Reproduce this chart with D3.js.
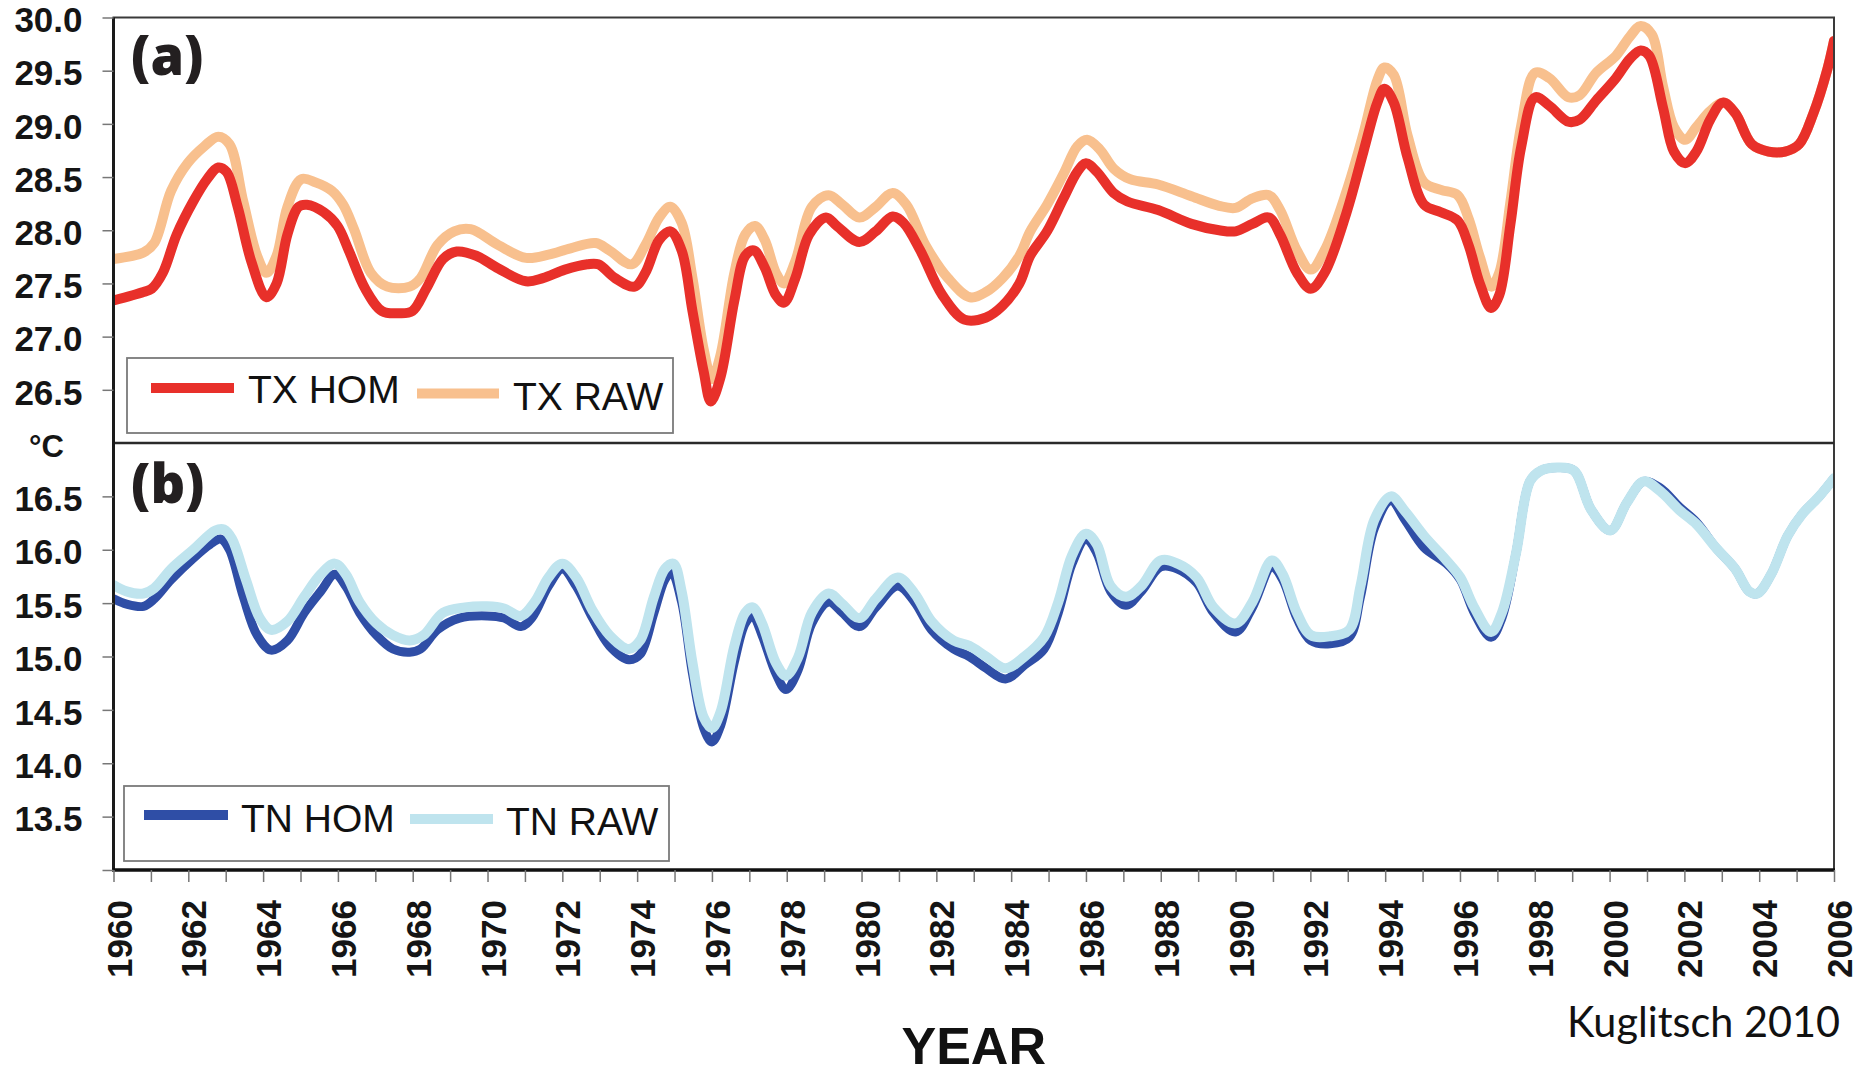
<!DOCTYPE html>
<html>
<head>
<meta charset="utf-8">
<script src="https://cdn.jsdelivr.net/npm/d3@7"></script>
<style>
  html, body { margin: 0; padding: 0; background: #ffffff; }
  svg { display: block; }
</style>
</head>
<body>
<script>
// ---------------- DATA ----------------
const yearTicks = d3.range(1960, 2007);
const yearLabels = d3.range(1960, 2007, 2);
const topTickValues = [26.5, 27.0, 27.5, 28.0, 28.5, 29.0, 29.5, 30.0];
const botTickValues = [13.0, 13.5, 14.0, 14.5, 15.0, 15.5, 16.0, 16.5];
const botTickLabels = [13.5, 14.0, 14.5, 15.0, 15.5, 16.0, 16.5];

// Panel (a) – TX HOM
const txHomYears = [1960.00,1960.80,1961.02,1961.32,1961.69,1962.13,1962.50,1962.80,1963.02,1963.32,1963.69,1964.09,1964.36,1964.65,1964.95,1965.17,1965.62,1965.99,1966.29,1966.73,1967.18,1967.62,1967.99,1968.36,1968.81,1969.18,1969.70,1970.29,1971.03,1971.48,1972.07,1972.67,1972.96,1973.41,1973.93,1974.22,1974.59,1974.89,1975.19,1975.48,1975.78,1975.97,1976.23,1976.60,1976.89,1977.12,1977.41,1977.71,1977.93,1978.23,1978.60,1979.05,1979.34,1979.94,1980.38,1980.83,1981.12,1981.57,1982.16,1982.75,1983.33,1983.77,1984.22,1984.51,1984.96,1985.40,1985.77,1986.00,1986.29,1986.74,1987.11,1987.93,1988.82,1989.56,1990.00,1990.45,1990.89,1991.19,1991.64,1992.01,1992.38,1992.97,1993.42,1993.79,1993.98,1994.23,1994.60,1995.04,1995.49,1995.94,1996.23,1996.53,1996.83,1997.05,1997.35,1997.64,1998.01,1998.39,1998.90,1999.20,1999.64,2000.17,2000.54,2000.83,2001.06,2001.43,2001.72,2002.02,2002.32,2002.69,2003.03,2003.36,2003.80,2004.25,2004.69,2005.07,2005.45,2005.82,2006.00];
const txHom = [27.34,27.42,27.45,27.60,27.96,28.27,28.48,28.59,28.55,28.22,27.70,27.37,27.50,27.96,28.22,28.24,28.17,28.04,27.81,27.45,27.24,27.22,27.24,27.45,27.73,27.80,27.76,27.64,27.52,27.55,27.63,27.68,27.68,27.55,27.47,27.60,27.91,27.99,27.81,27.24,26.67,26.39,26.62,27.34,27.76,27.81,27.65,27.39,27.32,27.55,27.96,28.12,28.04,27.89,27.99,28.13,28.07,27.81,27.39,27.16,27.18,27.29,27.50,27.76,27.99,28.30,28.55,28.63,28.55,28.35,28.27,28.19,28.06,28.00,27.99,28.06,28.12,27.96,27.60,27.45,27.60,28.17,28.74,29.20,29.33,29.20,28.68,28.24,28.17,28.09,27.86,27.50,27.27,27.39,28.06,28.79,29.25,29.17,29.02,29.04,29.22,29.43,29.61,29.69,29.64,29.15,28.74,28.63,28.74,29.04,29.20,29.10,28.81,28.74,28.74,28.81,29.10,29.51,29.78];

// Panel (a) – TX RAW
const txRawYears = [1960.00,1960.80,1961.09,1961.54,1961.98,1962.43,1962.80,1963.10,1963.47,1963.84,1964.09,1964.36,1964.65,1965.02,1965.40,1965.84,1966.14,1966.43,1966.88,1967.32,1967.92,1968.21,1968.66,1969.11,1969.55,1970.29,1971.03,1971.63,1972.22,1972.89,1973.26,1973.85,1974.22,1974.59,1974.89,1975.19,1975.48,1975.78,1976.00,1976.23,1976.60,1976.89,1977.15,1977.41,1977.71,1977.93,1978.23,1978.67,1979.12,1979.49,1979.94,1980.38,1980.83,1981.20,1981.71,1982.31,1982.90,1983.33,1983.77,1984.22,1984.51,1984.96,1985.40,1985.77,1986.03,1986.37,1986.74,1987.18,1987.93,1988.82,1989.56,1990.00,1990.45,1990.89,1991.19,1991.64,1992.01,1992.38,1992.97,1993.42,1993.79,1993.98,1994.23,1994.60,1995.04,1995.49,1995.94,1996.23,1996.53,1996.83,1997.05,1997.35,1997.64,1998.01,1998.39,1998.90,1999.20,1999.64,2000.17,2000.54,2000.83,2001.13,2001.43,2001.72,2002.02,2002.32,2002.69,2003.03,2003.36,2003.80,2004.25,2004.69,2005.07,2005.45,2005.82,2006.00];
const txRaw = [27.73,27.79,27.88,28.37,28.63,28.79,28.88,28.81,28.27,27.76,27.60,27.76,28.22,28.48,28.45,28.37,28.24,28.01,27.60,27.47,27.47,27.55,27.86,27.99,28.01,27.86,27.74,27.77,27.83,27.88,27.81,27.68,27.86,28.12,28.22,28.07,27.55,26.88,26.60,26.83,27.60,27.96,28.04,27.91,27.60,27.50,27.71,28.22,28.33,28.24,28.12,28.22,28.35,28.24,27.86,27.55,27.37,27.42,27.55,27.76,27.99,28.24,28.53,28.79,28.85,28.76,28.58,28.48,28.43,28.32,28.23,28.21,28.30,28.33,28.19,27.81,27.63,27.81,28.37,28.91,29.41,29.53,29.46,28.89,28.45,28.38,28.33,28.11,27.75,27.47,27.60,28.27,28.99,29.48,29.43,29.25,29.27,29.48,29.64,29.82,29.92,29.84,29.35,28.97,28.85,28.97,29.12,29.20,29.10,28.81,28.74,28.74,28.81,29.10,29.51,29.78];

// Panel (b) – TN HOM
const tnHomYears = [1960.00,1960.35,1960.80,1961.09,1961.54,1962.13,1962.58,1962.87,1963.10,1963.47,1963.84,1964.21,1964.65,1965.10,1965.54,1965.92,1966.21,1966.58,1967.03,1967.47,1967.92,1968.21,1968.66,1969.25,1969.99,1970.44,1970.89,1971.18,1971.63,1972.00,1972.37,1972.81,1973.26,1973.78,1974.08,1974.45,1974.74,1974.92,1975.19,1975.48,1975.78,1976.00,1976.23,1976.60,1976.89,1977.09,1977.34,1977.71,1977.98,1978.30,1978.67,1979.12,1979.49,1979.94,1980.38,1980.97,1981.42,1981.87,1982.46,1982.88,1983.33,1983.85,1984.36,1984.88,1985.26,1985.63,1986.00,1986.29,1986.66,1987.07,1987.48,1988.00,1988.45,1988.96,1989.41,1990.00,1990.45,1990.97,1991.26,1991.64,1992.01,1992.53,1993.04,1993.34,1993.71,1994.15,1994.53,1995.04,1995.64,1996.01,1996.38,1996.83,1997.12,1997.50,1997.87,1998.16,1998.61,1999.05,1999.50,2000.02,2000.46,2000.91,2001.35,2001.87,2002.32,2002.84,2003.36,2003.73,2003.95,2004.32,2004.76,2005.14,2005.58,2006.00];
const tnHom = [15.54,15.49,15.47,15.54,15.72,15.92,16.05,16.10,16.00,15.56,15.20,15.06,15.15,15.41,15.61,15.77,15.66,15.41,15.20,15.07,15.04,15.07,15.25,15.36,15.38,15.36,15.28,15.36,15.66,15.82,15.66,15.36,15.10,14.97,15.02,15.41,15.72,15.79,15.51,14.84,14.33,14.20,14.35,14.95,15.31,15.38,15.20,14.84,14.69,14.87,15.31,15.51,15.41,15.28,15.46,15.66,15.51,15.25,15.07,15.00,14.89,14.79,14.92,15.07,15.41,15.87,16.10,15.97,15.61,15.48,15.61,15.84,15.82,15.69,15.41,15.23,15.46,15.84,15.72,15.36,15.15,15.12,15.18,15.56,16.20,16.46,16.28,16.02,15.87,15.72,15.41,15.18,15.36,15.97,16.64,16.74,16.77,16.74,16.38,16.18,16.44,16.64,16.58,16.40,16.26,16.02,15.82,15.61,15.59,15.77,16.13,16.33,16.49,16.67];

// Panel (b) – TN RAW
const tnRawYears = [1960.00,1960.35,1960.80,1961.09,1961.54,1962.13,1962.72,1962.95,1963.17,1963.54,1963.91,1964.21,1964.65,1965.10,1965.54,1965.92,1966.21,1966.58,1967.03,1967.47,1967.92,1968.29,1968.81,1969.40,1969.99,1970.44,1970.89,1971.26,1971.63,1972.00,1972.37,1972.81,1973.26,1973.78,1974.08,1974.45,1974.74,1974.97,1975.19,1975.48,1975.78,1976.00,1976.23,1976.60,1976.89,1977.09,1977.34,1977.71,1977.98,1978.30,1978.67,1979.12,1979.49,1979.94,1980.38,1980.97,1981.42,1981.87,1982.46,1982.88,1983.33,1983.85,1984.36,1984.88,1985.26,1985.63,1986.00,1986.29,1986.66,1987.07,1987.48,1988.00,1988.45,1988.96,1989.41,1990.00,1990.45,1990.97,1991.26,1991.64,1992.01,1992.53,1993.04,1993.34,1993.71,1994.15,1994.53,1995.04,1995.64,1996.01,1996.38,1996.83,1997.12,1997.50,1997.87,1998.16,1998.61,1999.05,1999.50,2000.02,2000.46,2000.91,2001.35,2001.87,2002.32,2002.84,2003.36,2003.73,2003.95,2004.32,2004.76,2005.14,2005.58,2006.00];
const tnRaw = [15.67,15.61,15.59,15.64,15.82,16.00,16.18,16.19,16.10,15.72,15.36,15.25,15.33,15.56,15.77,15.87,15.77,15.51,15.31,15.20,15.15,15.20,15.41,15.46,15.47,15.45,15.38,15.51,15.74,15.87,15.74,15.43,15.20,15.07,15.15,15.56,15.82,15.87,15.61,14.94,14.43,14.33,14.48,15.10,15.41,15.46,15.31,14.94,14.82,14.99,15.41,15.59,15.49,15.36,15.54,15.74,15.59,15.33,15.15,15.10,15.00,14.89,15.00,15.18,15.51,15.95,16.15,16.05,15.66,15.56,15.66,15.90,15.87,15.74,15.46,15.31,15.51,15.90,15.77,15.41,15.20,15.19,15.25,15.66,16.28,16.50,16.36,16.13,15.90,15.74,15.46,15.23,15.41,15.97,16.64,16.74,16.77,16.74,16.38,16.18,16.44,16.64,16.55,16.37,16.24,16.02,15.82,15.61,15.59,15.77,16.13,16.33,16.49,16.67];

const seriesNames = ["TX HOM", "TX RAW", "TN HOM", "TN RAW"];
const seriesColors = ["#e8302a", "#f8c08e", "#2f4ea6", "#bfe4ee"];

// ---------------- LAYOUT ----------------
const W = 1865, H = 1078;
const L = 113.5, R = 1834, T = 17.5, M = 443, B = 870;
const numFont = "'Liberation Sans', Arial, Helvetica, sans-serif";

const svg = d3.select("body").append("svg").attr("width", W).attr("height", H);

const x = d3.scaleLinear().domain([1960, 2006]).range([L, R]);
const yTop = d3.scaleLinear().domain([26, 30]).range([M, T]);
const yBot = d3.scaleLinear().domain([13, 17]).range([B, M]);

// Clip paths
svg.append("clipPath").attr("id", "clipTop").append("rect")
  .attr("x", L).attr("y", T).attr("width", R - L).attr("height", M - T);
svg.append("clipPath").attr("id", "clipBot").append("rect")
  .attr("x", L).attr("y", M).attr("width", R - L).attr("height", B - M);

function lineFor(years, vals, yScale) {
  const pts = years.map((yr, i) => [yr, vals[i]]);
  return d3.line().x(d => x(d[0])).y(d => yScale(d[1])).curve(d3.curveCatmullRom.alpha(0.5))(pts);
}

// ---- Panel (a) lines: raw under, hom on top
const gTop = svg.append("g").attr("clip-path", "url(#clipTop)");
gTop.append("path").attr("d", lineFor(txRawYears, txRaw, yTop))
  .attr("fill", "none").attr("stroke", seriesColors[1]).attr("stroke-width", 10)
  .attr("stroke-linejoin", "round").attr("stroke-linecap", "round");
gTop.append("path").attr("d", lineFor(txHomYears, txHom, yTop))
  .attr("fill", "none").attr("stroke", seriesColors[0]).attr("stroke-width", 10)
  .attr("stroke-linejoin", "round").attr("stroke-linecap", "round");

// ---- Panel (b) lines: hom under, raw on top
const gBot = svg.append("g").attr("clip-path", "url(#clipBot)");
gBot.append("path").attr("d", lineFor(tnHomYears, tnHom, yBot))
  .attr("fill", "none").attr("stroke", seriesColors[2]).attr("stroke-width", 9)
  .attr("stroke-linejoin", "round").attr("stroke-linecap", "round");
gBot.append("path").attr("d", lineFor(tnRawYears, tnRaw, yBot))
  .attr("fill", "none").attr("stroke", seriesColors[3]).attr("stroke-width", 10)
  .attr("stroke-linejoin", "round").attr("stroke-linecap", "round");

// ---- Frames
svg.append("rect").attr("x", L).attr("y", T).attr("width", R - L).attr("height", B - T)
  .attr("fill", "none").attr("stroke", "#3a3a3a").attr("stroke-width", 2);
svg.append("line").attr("x1", L).attr("x2", R).attr("y1", M).attr("y2", M)
  .attr("stroke", "#2a2a2a").attr("stroke-width", 2.5);
svg.append("line").attr("x1", L).attr("x2", L).attr("y1", T).attr("y2", B)
  .attr("stroke", "#1a1a1a").attr("stroke-width", 3);
svg.append("line").attr("x1", L - 1.5).attr("x2", R + 1).attr("y1", B).attr("y2", B)
  .attr("stroke", "#111").attr("stroke-width", 3.5);

// ---- Y axes
function styleYAxis(g, labels) {
  g.select(".domain").remove();
  g.selectAll(".tick line").attr("stroke", "#777").attr("stroke-width", 1.5);
  g.selectAll(".tick text")
    .attr("font-family", numFont).attr("font-weight", "bold").attr("font-size", 35)
    .attr("fill", "#151515")
    .attr("y", 3)
    .text(d => labels.includes(d) ? d3.format(".1f")(d) : "");
}
const axTop = svg.append("g").attr("transform", `translate(${L},0)`)
  .call(d3.axisLeft(yTop).tickValues(topTickValues).tickSize(11).tickPadding(20));
styleYAxis(axTop, topTickValues);
const axBot = svg.append("g").attr("transform", `translate(${L},0)`)
  .call(d3.axisLeft(yBot).tickValues(botTickValues).tickSize(11).tickPadding(20));
styleYAxis(axBot, botTickLabels);

// unit label
svg.append("text").attr("x", 29).attr("y", 457)
  .attr("font-family", numFont).attr("font-weight", "bold").attr("font-size", 31)
  .attr("fill", "#151515").text("°C");

// ---- X axis ticks (every year)
const axX = svg.append("g").attr("transform", `translate(0,${B})`)
  .call(d3.axisBottom(x).tickValues(yearTicks).tickSize(12).tickFormat(""));
axX.select(".domain").remove();
axX.selectAll(".tick line").attr("stroke", "#777").attr("stroke-width", 1.5);

// ---- X labels (every 2 years, rotated)
const axXL = svg.append("g").attr("transform", `translate(0,${B})`)
  .call(d3.axisBottom(x).tickValues(yearLabels).tickSize(0).tickFormat(d => String(d)));
axXL.select(".domain").remove();
axXL.selectAll(".tick text")
  .attr("font-family", numFont).attr("font-weight", "bold").attr("font-size", 35)
  .attr("fill", "#151515")
  .attr("text-anchor", "end")
  .attr("dy", null)
  .attr("x", -30).attr("y", 17.5)
  .attr("transform", "rotate(-90)");

// ---- Axis title & credit
svg.append("text").attr("x", (L + R) / 2).attr("y", 1064).attr("text-anchor", "middle")
  .attr("font-family", numFont).attr("font-weight", "bold").attr("font-size", 52)
  .attr("fill", "#111").text("YEAR");
svg.append("text").attr("x", 1840).attr("y", 1037).attr("text-anchor", "end")
  .attr("font-family", "Lato, 'Open Sans', sans-serif").attr("font-size", 42)
  .attr("fill", "#111").attr("textLength", 273).attr("lengthAdjust", "spacingAndGlyphs")
  .text("Kuglitsch 2010");

// ---- Panel letters
const letterFont = "'Open Sans', 'DejaVu Sans', sans-serif";
svg.append("text").attr("x", 131).attr("y", 75)
  .attr("font-family", letterFont).attr("font-weight", 800).attr("font-size", 54)
  .attr("fill", "#231f20").text("(a)");
svg.append("text").attr("x", 131).attr("y", 503)
  .attr("font-family", letterFont).attr("font-weight", 800).attr("font-size", 54)
  .attr("fill", "#231f20").text("(b)");

// ---- Legends
function legend(box, items) {
  const g = svg.append("g");
  g.append("rect").attr("x", box[0]).attr("y", box[1]).attr("width", box[2]).attr("height", box[3])
    .attr("fill", "#fff").attr("stroke", "#7a7a7a").attr("stroke-width", 1.8);
  items.forEach(it => {
    g.append("line").attr("x1", it.lx1).attr("x2", it.lx2).attr("y1", it.ly).attr("y2", it.ly)
      .attr("stroke", it.color).attr("stroke-width", 10);
    g.append("text").attr("x", it.tx).attr("y", it.ty)
      .attr("font-family", numFont).attr("font-size", 39).attr("fill", "#111").text(it.name);
  });
}
legend([127, 358, 546, 75], [
  { name: seriesNames[0], color: seriesColors[0], lx1: 151, lx2: 234, ly: 388, tx: 248, ty: 403 },
  { name: seriesNames[1], color: seriesColors[1], lx1: 417, lx2: 499, ly: 393.5, tx: 513, ty: 410 }
]);
legend([124, 786, 545, 75], [
  { name: seriesNames[2], color: seriesColors[2], lx1: 144, lx2: 228, ly: 815, tx: 241, ty: 832 },
  { name: seriesNames[3], color: seriesColors[3], lx1: 410, lx2: 493, ly: 819, tx: 506, ty: 835 }
]);
</script>
</body>
</html>
